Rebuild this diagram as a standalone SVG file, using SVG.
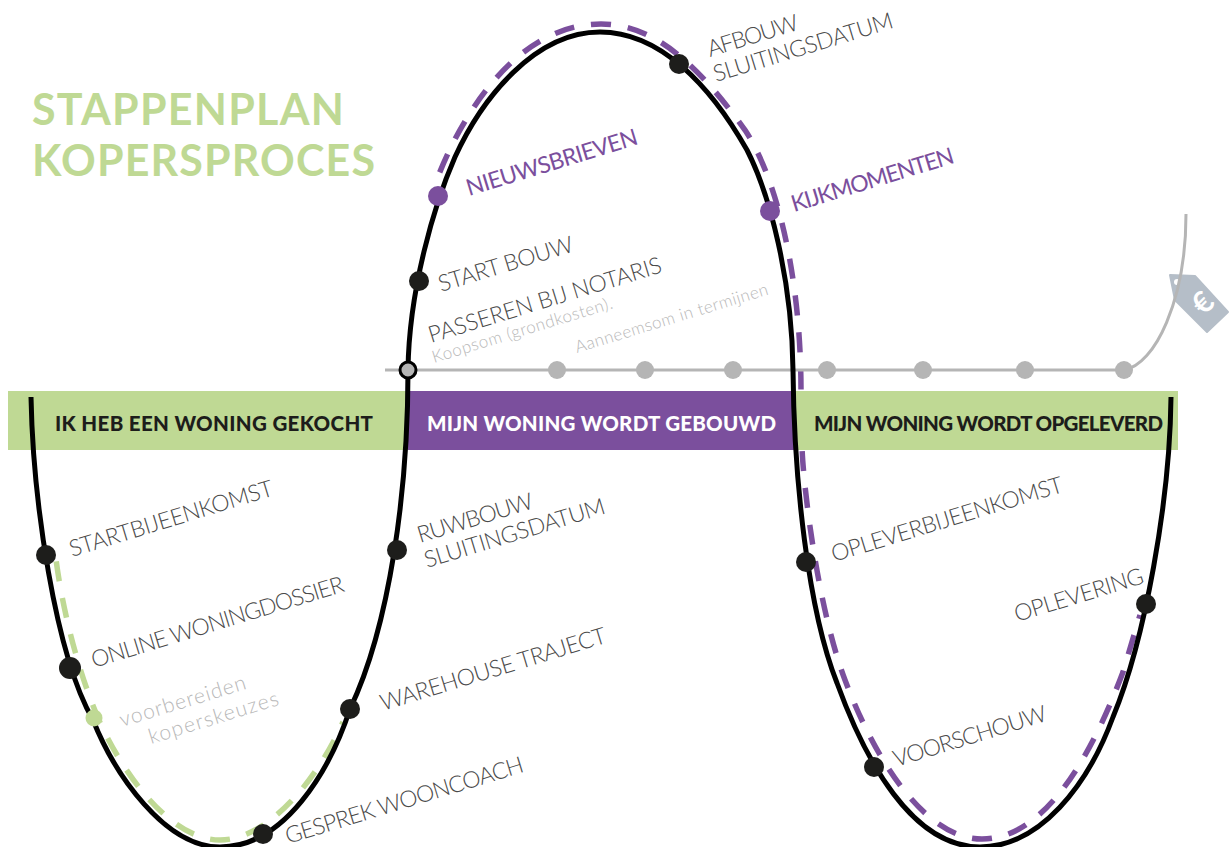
<svg xmlns="http://www.w3.org/2000/svg" width="1230" height="847" viewBox="0 0 1230 847">
<style>
text{font-family:"Lato","Open Sans","Liberation Sans",sans-serif}
.l{font-size:23px;font-weight:300;fill:#4a4a4a}
.s{font-size:21px;font-weight:300;fill:#b8b8b8}
.x{font-size:17px;font-weight:300;fill:#b8b8b8}
.p{font-size:23px;font-weight:400;fill:#7b4f9d}
.b{font-size:20.5px;font-weight:900}
.t{font-size:43px;font-weight:700;fill:#bfd994}
.k{fill:#1d1d1b}.g{fill:#b5b5b5}
.curve{fill:none;stroke:#000;stroke-width:5}
.dash{fill:none;stroke-width:5.5;stroke-dasharray:20 17;stroke-dashoffset:10}
</style>
<g id="title"><text class="t" x="32" y="125" textLength="312">STAPPENPLAN</text><text class="t" x="32" y="176" textLength="343">KOPERSPROCES</text></g>
<g id="dashes">
<path class="dash" stroke="#bfd994" d="M220 840C175 840 130 785 102 727C85 690 64 625 55 552M220 840C265 840 315 785 343 722"/>
<path class="dash" stroke="#7b4f9d" d="M601 24C510 24 455 130 436 182M601 24C660 24 705 75 745 130C778 180 801 280 801 391M982 839C925 839 875 760 845 680C815 600 802 470 802 445M982 839C1025 839 1075 800 1123 672L1140 615"/>
</g>
<g id="bands">
<rect x="8" y="391" width="400" height="59" fill="#bfd994"/>
<rect x="408" y="391" width="386" height="59" fill="#7b4f9d"/>
<rect x="794" y="391" width="384" height="59" fill="#bfd994"/>
<text class="b" x="55" y="431" fill="#1d1d1b" textLength="318">IK HEB EEN WONING GEKOCHT</text>
<text class="b" x="427" y="431" fill="#fff" textLength="349">MIJN WONING WORDT GEBOUWD</text>
<text class="b" x="814" y="431" fill="#1d1d1b" textLength="349">MIJN WONING WORDT OPGELEVERD</text>
</g>
<g id="tag"><path d="M1170 275L1195 276L1228 312L1207 332L1175 300Z" fill="#b5bec8" stroke="#b5bec8" stroke-width="2" stroke-linejoin="round"/><circle cx="1177" cy="282" r="3" fill="#fff"/><text transform="translate(1203 303) rotate(-45)" y="10" text-anchor="middle" fill="#fff" style="font-size:30px;font-weight:700">€</text></g>
<g id="connectors">
<path id="timeline" d="M385 370H1124C1155 365 1186 300 1186 214" fill="none" stroke="#b5b5b5" stroke-width="3"/>
<path class="curve" d="M31 397C33 500 55 654 93 720C115 775 165 847 220 847C285 847 330 770 350 709C390 625 408 490 408 370C409 290 434 205 455 157C482 98 535 32 600 32C660 32 710 85 747 150C770 195 792 280 793 370C794 480 808 610 837 683C865 760 912 847 980 847C1040 847 1088 785 1113 717C1145 640 1170 500 1171 397"/>
</g>
<g id="n-start"><circle class="k" cx="46" cy="555" r="10"/><text class="l" transform="translate(72 557) rotate(-17)" textLength="212">STARTBIJEENKOMST</text></g>
<g id="n-online"><circle class="k" cx="70" cy="668" r="11"/><text class="l" transform="translate(94 668) rotate(-17)" textLength="263">ONLINE WONINGDOSSIER</text></g>
<g id="n-voorb"><circle cx="94" cy="718" r="8.5" fill="#bfd994"/><text class="s" transform="translate(122 727) rotate(-17)" textLength="131">voorbereiden</text><text class="s" transform="translate(151 744) rotate(-17)" textLength="135">koperskeuzes</text></g>
<g id="n-gesprek"><circle class="k" cx="263" cy="834" r="10"/><text class="l" transform="translate(288 844) rotate(-17)" textLength="248">GESPREK WOONCOACH</text></g>
<g id="n-warehouse"><circle class="k" cx="350" cy="709" r="10"/><text class="l" transform="translate(383 711) rotate(-17)" textLength="235">WAREHOUSE TRAJECT</text></g>
<g id="n-ruwbouw"><circle class="k" cx="397" cy="550" r="10"/><text class="l" transform="translate(420 543) rotate(-17)" textLength="120">RUWBOUW</text><text class="l" transform="translate(427 568) rotate(-17)" textLength="188">SLUITINGSDATUM</text></g>
<g id="n-notaris"><circle cx="408" cy="370" r="8" fill="#b5b5b5" stroke="#000" stroke-width="3"/><text class="l" transform="translate(431 343) rotate(-17)" textLength="243">PASSEREN BIJ NOTARIS</text><text class="x" transform="translate(434 363) rotate(-17)" textLength="188">Koopsom (grondkosten).</text><text class="x" transform="translate(577 353) rotate(-17)" textLength="201">Aanneemsom in termijnen</text></g>
<g id="n-bouw"><circle class="k" cx="419" cy="281" r="10"/><text class="l" transform="translate(441 292) rotate(-17)" textLength="140">START BOUW</text></g>
<g id="n-nieuws"><circle cx="438" cy="196" r="10" fill="#7b4f9d"/><text class="p" transform="translate(469 196) rotate(-17)" textLength="178">NIEUWSBRIEVEN</text></g>
<g id="n-afbouw"><circle class="k" cx="679" cy="64" r="10"/><text class="l" transform="translate(710 57) rotate(-17)" textLength="94">AFBOUW</text><text class="l" transform="translate(716 82) rotate(-17)" textLength="187">SLUITINGSDATUM</text></g>
<g id="n-kijk"><circle cx="770" cy="211" r="10" fill="#7b4f9d"/><text class="p" transform="translate(794 212) rotate(-17)" textLength="169">KIJKMOMENTEN</text></g>
<g id="n-oplever"><circle class="k" cx="806" cy="562" r="10"/><text class="l" transform="translate(834 562) rotate(-17)" textLength="241">OPLEVERBIJEENKOMST</text></g>
<g id="n-oplevering"><circle class="k" cx="1146" cy="604" r="10"/><text class="l" transform="translate(1017 622) rotate(-17)" textLength="134">OPLEVERING</text></g>
<g id="n-voorschouw"><circle class="k" cx="874" cy="767" r="10"/><text class="l" transform="translate(896 767) rotate(-17)" textLength="159">VOORSCHOUW</text></g>
<g id="timeline-dots"><circle class="g" cx="557" cy="370" r="9"/><circle class="g" cx="645" cy="370" r="9"/><circle class="g" cx="733" cy="370" r="9"/><circle class="g" cx="827" cy="370" r="9"/><circle class="g" cx="923" cy="370" r="9"/><circle class="g" cx="1025" cy="370" r="9"/><circle class="g" cx="1124" cy="370" r="9"/></g>
</svg>
